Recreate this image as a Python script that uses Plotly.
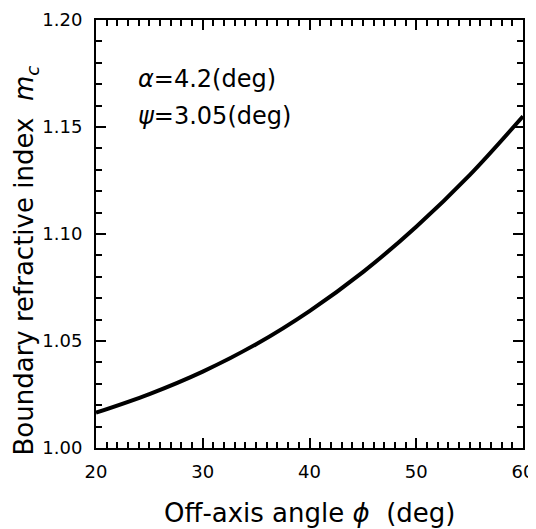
import plotly.graph_objects as go

phi_deg = [20, 25, 30, 35, 40, 45, 50, 55, 60]
m_c = [1.0165, 1.0252, 1.0357, 1.0485, 1.0640, 1.0822, 1.1034, 1.1275, 1.1550]

x_ticks = [20, 30, 40, 50, 60]
y_ticks = [1.00, 1.05, 1.10, 1.15, 1.20]
y_tick_labels = ["1.00", "1.05", "1.10", "1.15", "1.20"]

font_family = "DejaVu Sans, Arial, sans-serif"

fig = go.Figure()
fig.add_trace(go.Scatter(x=phi_deg, y=m_c, mode="lines",
                         line=dict(color="black", width=4, shape="spline"),
                         showlegend=False))

axis_common = dict(
    showline=True, linecolor="black", linewidth=2, mirror="allticks",
    ticks="inside", ticklen=10, tickwidth=2, tickcolor="black",
    showgrid=False, zeroline=False, automargin=False,
    ticklabeloverflow="allow",
    tickfont=dict(family=font_family, size=18, color="black"),
)

fig.update_xaxes(
    range=[20, 60], tickvals=x_ticks,
    minor=dict(ticks="inside", ticklen=6, tickwidth=1.5, tickcolor="black", dtick=1, showgrid=False),
    ticklabelstandoff=6,
    **axis_common,
)
fig.update_yaxes(
    range=[1.00, 1.20], tickvals=y_ticks, ticktext=y_tick_labels,
    minor=dict(ticks="inside", ticklen=6, tickwidth=1.5, tickcolor="black", dtick=0.01, showgrid=False),
    ticklabelstandoff=8,
    **axis_common,
)

# axis titles
fig.add_annotation(x=0.5, y=-0.151, xref="paper", yref="paper", xanchor="center", yanchor="middle",
                   text="Off-axis angle <i>ϕ</i>  (deg)", showarrow=False,
                   font=dict(family=font_family, size=26, color="black"))
fig.add_annotation(x=-0.164, y=0.438, xref="paper", yref="paper", xanchor="center", yanchor="middle",
                   textangle=-90,
                   text="Boundary refractive index  <i>m<sub>c</sub></i>", showarrow=False,
                   font=dict(family=font_family, size=26, color="black"))

fig.add_annotation(x=0.094, y=0.8615, xref="paper", yref="paper", xanchor="left", yanchor="middle",
                   text="<i>α</i>=4.2(deg)", showarrow=False,
                   font=dict(family=font_family, size=24, color="black"))
fig.add_annotation(x=0.094, y=0.776, xref="paper", yref="paper", xanchor="left", yanchor="middle",
                   text="<i>ψ</i>=3.05(deg)", showarrow=False,
                   font=dict(family=font_family, size=24, color="black"))

# the page body has an 8px default margin, so the figure is sized to fit the window
fig.update_layout(
    width=528, height=521,
    margin=dict(l=88, r=13, t=12, b=81),
    plot_bgcolor="white", paper_bgcolor="white",
)

fig.write_html("out.html")
